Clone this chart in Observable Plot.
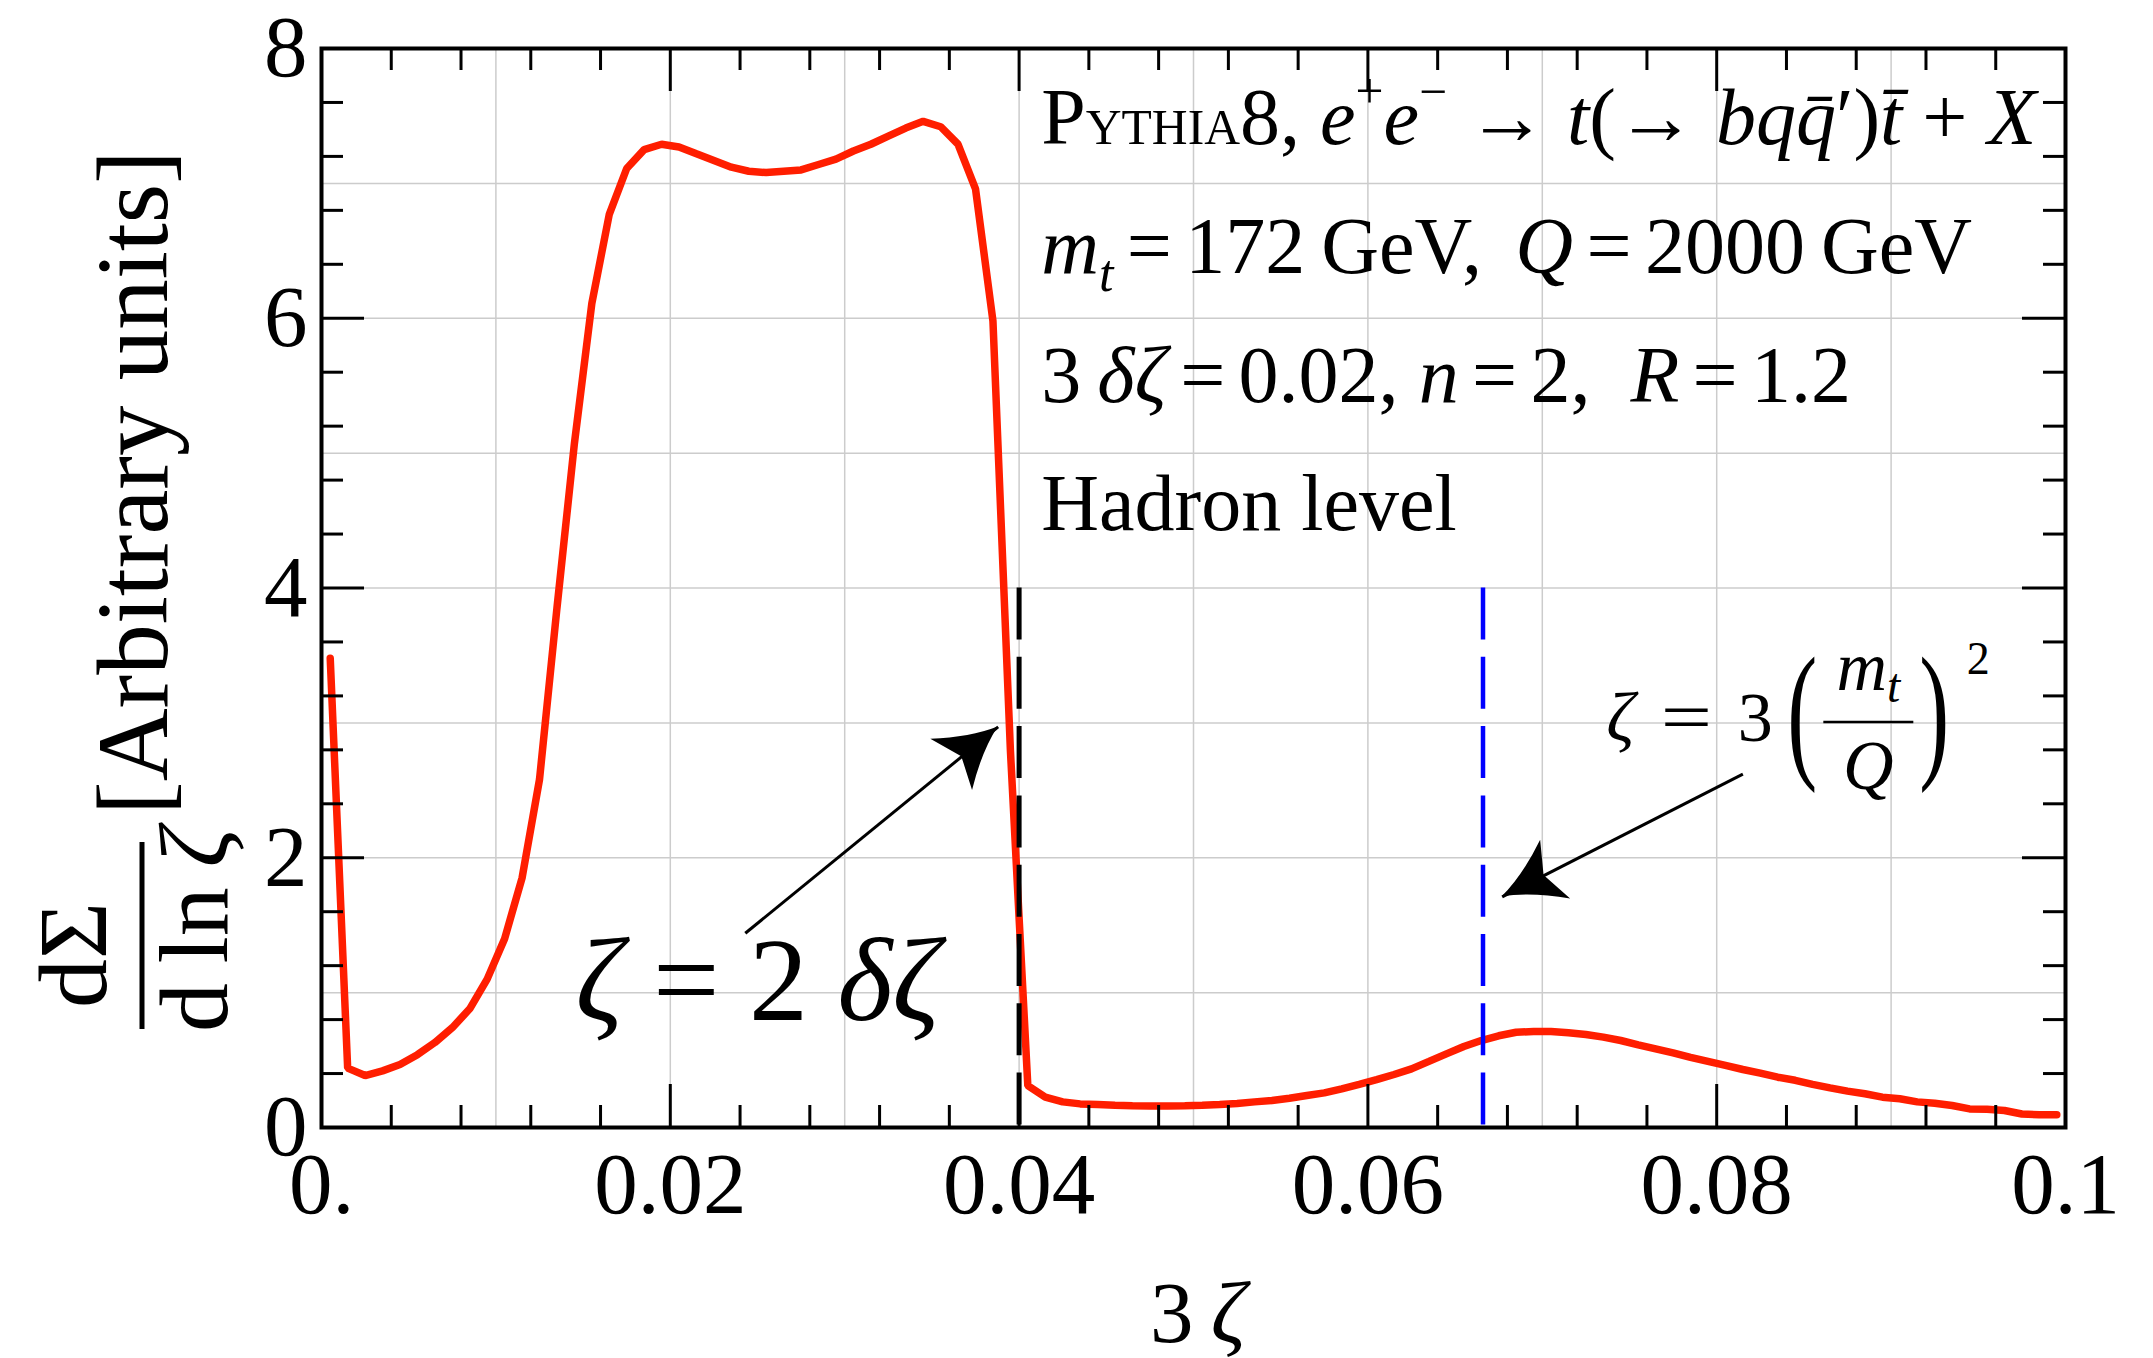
<!DOCTYPE html>
<html>
<head>
<meta charset="utf-8">
<script src="https://cdn.jsdelivr.net/npm/d3@7"></script>
<script src="https://cdn.jsdelivr.net/npm/@observablehq/plot@0.6"></script>
<style>
  html, body { margin: 0; padding: 0; background: #fff; }
  svg { display: block; }
</style>
</head>
<body>
<div id="chart"></div>
<script>
// ---------- data ----------
const threeZeta = [
  0.0005,0.0015,0.0025,0.0035,0.0045,0.0055,0.0065,0.0075,0.0085,0.0095,
  0.0105,0.0115,0.0125,0.0135,0.0145,0.0155,0.0165,0.0175,0.0185,0.0195,
  0.0205,0.0215,0.0225,0.0235,0.0245,0.0255,0.0265,0.0275,0.0285,0.0295,
  0.0305,0.0315,0.0325,0.0335,0.0345,0.0355,0.0365,0.0375,0.0385,0.0395,
  0.0405,0.0415,0.0425,0.0435,0.0445,0.0455,0.0465,0.0475,0.0485,0.0495,
  0.0505,0.0515,0.0525,0.0535,0.0545,0.0555,0.0565,0.0575,0.0585,0.0595,
  0.0605,0.0615,0.0625,0.0635,0.0645,0.0655,0.0665,0.0675,0.0685,0.0695,
  0.0705,0.0715,0.0725,0.0735,0.0745,0.0755,0.0765,0.0775,0.0785,0.0795,
  0.0805,0.0815,0.0825,0.0835,0.0845,0.0855,0.0865,0.0875,0.0885,0.0895,
  0.0905,0.0915,0.0925,0.0935,0.0945,0.0955,0.0965,0.0975,0.0985,0.0995
];
const dSigma = [
  3.48,0.44,0.385,0.42,0.467,0.54,0.63,0.74,0.88,1.10,
  1.40,1.85,2.58,3.85,5.07,6.11,6.77,7.11,7.25,7.29,
  7.27,7.22,7.17,7.12,7.09,7.08,7.09,7.10,7.14,7.18,
  7.24,7.29,7.35,7.41,7.46,7.42,7.29,6.96,5.98,2.80,
  0.31,0.225,0.19,0.175,0.17,0.165,0.162,0.16,0.16,0.162,
  0.165,0.17,0.178,0.19,0.20,0.217,0.237,0.257,0.287,0.32,
  0.355,0.393,0.435,0.49,0.546,0.60,0.645,0.68,0.706,0.712,
  0.712,0.703,0.69,0.67,0.645,0.613,0.583,0.553,0.52,0.49,
  0.46,0.43,0.403,0.373,0.35,0.32,0.294,0.27,0.25,0.225,
  0.213,0.19,0.18,0.163,0.138,0.136,0.126,0.10,0.094,0.094
];
const xMajorTicks = [0, 0.02, 0.04, 0.06, 0.08, 0.1];
const xTickLabels = ["0.", "0.02", "0.04", "0.06", "0.08", "0.1"];
const xMinorTicks = [0.004,0.008,0.012,0.016,0.024,0.028,0.032,0.036,0.044,0.048,
                     0.052,0.056,0.064,0.068,0.072,0.076,0.084,0.088,0.092,0.096];
const yMajorTicks = [0, 2, 4, 6, 8];
const yTickLabels = ["0", "2", "4", "6", "8"];
const yMinorTicks = [0.4,0.8,1.2,1.6,2.4,2.8,3.2,3.6,4.4,4.8,5.2,5.6,6.4,6.8,7.2,7.6];
const xGridLines = [0.01,0.02,0.03,0.04,0.05,0.06,0.07,0.08,0.09];
const yGridLines = [1,2,3,4,5,6,7];
const cutLine = [0.04];          // zeta = 2 delta zeta
const massLine = [0.0666];       // zeta = 3 (m_t/Q)^2
const markerTop = 4;
const arrowFrom = [[0.0243, 1.44], [0.0815, 2.62]];
const arrowTo   = [[0.0388, 2.97], [0.0677, 1.71]];
const infoLeft = 0.0413;
const infoBaselines = [7.29, 6.33, 5.377, 4.425];
const cutLabelAt = [0.0146, 0.793];
const massLabelAt = [0.0737, 2.861];

// ---------- layout ----------
const W = 2153, H = 1358, mL = 321, mR = 88, mT = 48, mB = 231;
const fw = W - mL - mR, fh = H - mT - mB;
const serif = "'Liberation Serif', 'Times New Roman', serif";
const majorLen = 43, minorLen = 22, tickW = 3;

const curve = threeZeta.map((x, i) => ({x, y: dSigma[i]}));
const arrows = arrowFrom.map((f, i) => ({x1: f[0], y1: f[1], x2: arrowTo[i][0], y2: arrowTo[i][1]}));

const tickStyle = {stroke: "black", strokeWidth: tickW};

const chart = Plot.plot({
  width: W, height: H,
  marginLeft: mL, marginRight: mR, marginTop: mT, marginBottom: mB,
  x: {domain: [0, 0.1], axis: null},
  y: {domain: [0, 8], axis: null},
  style: {fontFamily: serif, background: "white", color: "black"},
  marks: [
    Plot.ruleX(xGridLines, {x: d => d, stroke: "#cccccc", strokeWidth: 1.5}),
    Plot.ruleY(yGridLines, {y: d => d, stroke: "#cccccc", strokeWidth: 1.5}),
    Plot.line(curve, {x: "x", y: "y", stroke: "#ff1e00", strokeWidth: 7.5, strokeLinejoin: "miter"}),
    Plot.ruleX(cutLine, {x: d => d, y1: () => markerTop, y2: () => 0, stroke: "black", strokeWidth: 5, strokeDasharray: "52 17.3"}),
    Plot.ruleX(massLine, {x: d => d, y1: () => markerTop, y2: () => 0, stroke: "#0000ff", strokeWidth: 4.5, strokeDasharray: "52 17.3"}),
    Plot.link(arrows, {x1: "x1", y1: "y1", x2: "x2", y2: "y2", stroke: "black", strokeWidth: 3}),
    // ticks, all four sides, pointing inward
    Plot.tickX(xMajorTicks, {x: d => d, insetTop: fh - majorLen, ...tickStyle}),
    Plot.tickX(xMinorTicks, {x: d => d, insetTop: fh - minorLen, ...tickStyle}),
    Plot.tickX(xMajorTicks, {x: d => d, insetBottom: fh - majorLen, ...tickStyle}),
    Plot.tickX(xMinorTicks, {x: d => d, insetBottom: fh - minorLen, ...tickStyle}),
    Plot.tickY(yMajorTicks, {y: d => d, insetRight: fw - majorLen, ...tickStyle}),
    Plot.tickY(yMinorTicks, {y: d => d, insetRight: fw - minorLen, ...tickStyle}),
    Plot.tickY(yMajorTicks, {y: d => d, insetLeft: fw - majorLen, ...tickStyle}),
    Plot.tickY(yMinorTicks, {y: d => d, insetLeft: fw - minorLen, ...tickStyle}),
    Plot.frame({stroke: "black", strokeWidth: 4}),
    // tick labels
    Plot.text(xMajorTicks, {x: d => d, text: (d, i) => xTickLabels[i], frameAnchor: "bottom",
      lineAnchor: "bottom", dy: 85, fontSize: 87, fill: "black"}),
    Plot.text(yMajorTicks, {y: d => d, text: (d, i) => yTickLabels[i], frameAnchor: "left",
      textAnchor: "end", dx: -14, fontSize: 87, fill: "black"})
  ]
});
document.getElementById("chart").appendChild(chart);

// ---------- rich-text annotations ----------
const sx = chart.scale("x"), sy = chart.scale("y");
const X = v => sx.apply(v), Y = v => sy.apply(v);
const svg = d3.select(chart);
const g = svg.append("g").attr("font-family", serif).attr("fill", "black").attr("text-anchor", "start");

function richText(parent, x, y, size, parts, anchor = "start") {
  const t = parent.append("text").attr("x", x).attr("y", y)
    .attr("font-size", size).attr("text-anchor", anchor);
  let shift = 0;
  for (const p of parts) {
    const ts = t.append("tspan").text(p.t);
    if (p.i) ts.attr("font-style", "italic");
    if (p.s) ts.attr("font-size", size * p.s);
    const target = (p.dy || 0) * size;
    if (target !== shift) { ts.attr("dy", target - shift); shift = target; }
  }
  return t;
}

// info block
const fs = 80;
const sup = -0.45, sub = 0.22, sc = 0.62;
const ns = "\u2006"; // narrow space
const infoLines = [
  [{t: "P"}, {t: "YTHIA", s: sc}, {t: "8, "}, {t: "e", i: 1}, {t: "+", s: sc, dy: sup},
   {t: "e", i: 1}, {t: "\u2212", s: sc, dy: sup}, {t: " \u2192 "}, {t: "t", i: 1}, {t: "(\u2192 "},
   {t: "bq", i: 1}, {t: "q\u0304", i: 1}, {t: "\u2032"}, {t: ")"}, {t: "t\u0304", i: 1}, {t: " + "}, {t: "X", i: 1}],
  [{t: "m", i: 1}, {t: "t", i: 1, s: 0.65, dy: sub}, {t: ns + "=" + ns + "172\u2009GeV, " + ns}, {t: "Q", i: 1},
   {t: ns + "=" + ns + "2000\u2009GeV"}],
  [{t: "3\u2009"}, {t: "\u03b4\u03b6", i: 1}, {t: ns + "=" + ns + "0.02, "}, {t: "n", i: 1}, {t: ns + "=" + ns + "2,  "},
   {t: "R", i: 1}, {t: ns + "=" + ns + "1.2"}],
  [{t: "Hadron level"}]
];
infoLines.forEach((parts, k) => richText(g, X(infoLeft), Y(infoBaselines[k]), fs, parts));

// zeta = 2 delta zeta
richText(g, X(cutLabelAt[0]), Y(cutLabelAt[1]), 118,
  [{t: "\u03b6", i: 1}, {t: " = 2 "}, {t: "\u03b4\u03b6", i: 1}]);

// zeta = 3 (m_t / Q)^2
{
  const ax = X(massLabelAt[0]), ay = Y(massLabelAt[1]);
  const f = 70;
  const m = g.append("g").attr("transform", `translate(${ax},${ay})`);
  m.append("text").attr("x", 0).attr("y", 0).attr("font-size", f).attr("font-style", "italic").attr("text-anchor", "start").text("\u03b6");
  m.append("text").attr("transform", "translate(80,0) scale(1.3,1)").attr("font-size", f).attr("text-anchor", "middle").text("=");
  m.append("text").attr("x", 149).attr("y", 0).attr("font-size", f).attr("text-anchor", "middle").text("3");
  m.append("text").attr("transform", "translate(196,20) scale(0.6,1)").attr("font-size", 150).attr("text-anchor", "middle").text("(");
  m.append("text").attr("transform", "translate(328,20) scale(0.6,1)").attr("font-size", 150).attr("text-anchor", "middle").text(")");
  const num = m.append("text").attr("x", 262).attr("y", -51).attr("font-size", f).attr("text-anchor", "middle");
  num.append("tspan").attr("font-style", "italic").text("m");
  num.append("tspan").attr("font-style", "italic").attr("font-size", f * 0.68).attr("dy", 12).text("t");
  m.append("line").attr("x1", 217).attr("x2", 307).attr("y1", -19).attr("y2", -19).attr("stroke", "black").attr("stroke-width", 2.5);
  m.append("text").attr("x", 262).attr("y", 48).attr("font-size", f).attr("font-style", "italic").attr("text-anchor", "middle").text("Q");
  m.append("text").attr("x", 372).attr("y", -67).attr("font-size", 46).attr("text-anchor", "middle").text("2");
}

// arrowheads (filled, swept), tip at arrow end
const headPath = "M0,0 Q-28,-9 -60,-33 L-47,0 L-60,33 Q-28,9 0,0 Z";
arrows.forEach(a => {
  const x1 = X(a.x1), y1 = Y(a.y1), x2 = X(a.x2), y2 = Y(a.y2);
  const ang = Math.atan2(y2 - y1, x2 - x1) * 180 / Math.PI;
  g.append("path").attr("d", headPath).attr("fill", "black")
    .attr("transform", `translate(${x2},${y2}) rotate(${ang})`);
});

// ---------- axis titles ----------
const yt = svg.append("g").attr("font-family", serif).attr("fill", "black").attr("text-anchor", "start");
yt.append("text").attr("transform", "translate(167,815) rotate(-90)").attr("text-anchor", "start")
  .attr("font-size", 101).text("[Arbitrary units]");
yt.append("text").attr("transform", "translate(106,955) rotate(-90)").attr("text-anchor", "middle")
  .attr("font-size", 98).text("d\u03a3");
yt.append("line").attr("x1", 142).attr("x2", 142).attr("y1", 842).attr("y2", 1029)
  .attr("stroke", "black").attr("stroke-width", 5);
const den = yt.append("text").attr("transform", "translate(227,930) rotate(-90)").attr("text-anchor", "middle").attr("font-size", 98);
den.append("tspan").text("d\u2009ln\u2009");
den.append("tspan").attr("font-style", "italic").text("\u03b6");

const xt = svg.append("text").attr("font-family", serif).attr("fill", "black")
  .attr("x", 1198).attr("y", 1342).attr("font-size", 87).attr("text-anchor", "middle");
xt.append("tspan").text("3\u2009");
xt.append("tspan").attr("font-style", "italic").text("\u03b6");
</script>
</body>
</html>
